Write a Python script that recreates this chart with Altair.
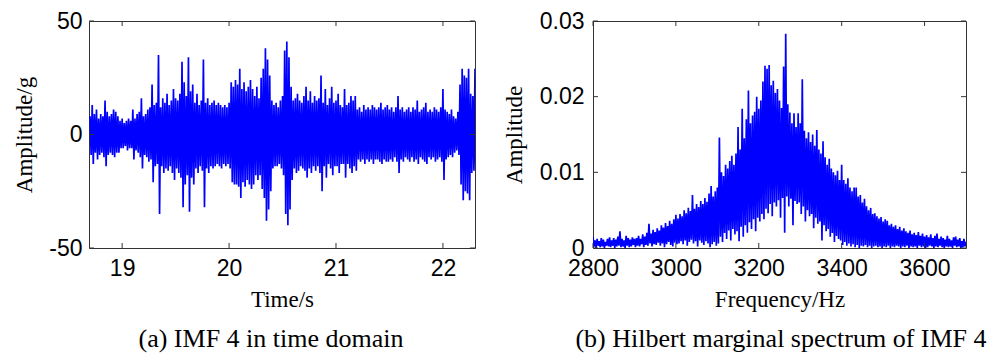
import altair as alt
import pandas as pd

# ---- (a) IMF 4 in time domain: upper / lower swing of each 0.02 s sample ----
TIME_START, TIME_STEP = 18.70, 0.02
imf4_upper = [
    8, 13, 9, 11, 7, 9, 8, 15, 10, 8,
    9, 11, 10, 8, 6, 7, 5, 6, 7, 6,
    11, 7, 9, 10, 16, 8, 9, 11, 12, 22,
    13, 14, 35, 12, 16, 14, 18, 13, 15, 20,
    16, 15, 18, 32, 23, 17, 34, 19, 22, 14,
    18, 13, 15, 33, 14, 16, 13, 14, 15, 13,
    14, 13, 12, 13, 12, 14, 23, 21, 24, 22,
    29, 20, 23, 19, 21, 24, 20, 17, 21, 16,
    25, 29, 38, 33, 26, 15, 13, 14, 12, 15,
    17, 37, 41, 34, 21, 15, 16, 18, 15, 14,
    17, 21, 15, 19, 14, 17, 15, 16, 26, 14,
    20, 13, 16, 21, 14, 15, 18, 13, 12, 20,
    13, 14, 17, 15, 17, 11, 12, 10, 13, 11,
    12, 11, 13, 12, 11, 12, 14, 11, 12, 13,
    11, 12, 10, 12, 17, 11, 12, 10, 11, 12,
    10, 12, 11, 15, 10, 11, 12, 14, 10, 11,
    10, 12, 11, 10, 12, 20, 11, 10, 9, 11,
    8, 7, 10, 22, 29, 26, 25, 29, 18, 17, 29,
]
imf4_lower = [
    -9, -13, -8, -11, -9, -8, -10, -14, -9, -8,
    -9, -10, -8, -8, -6, -6, -5, -7, -6, -6,
    -11, -7, -8, -10, -15, -9, -10, -12, -11, -21,
    -14, -13, -35, -14, -17, -15, -16, -14, -17, -20,
    -15, -17, -19, -32, -22, -18, -34, -19, -22, -15,
    -17, -14, -16, -32, -15, -17, -14, -15, -14, -13,
    -14, -15, -13, -14, -13, -15, -21, -22, -22, -23,
    -28, -21, -23, -20, -22, -24, -22, -18, -20, -18,
    -24, -28, -38, -33, -25, -15, -14, -14, -13, -15,
    -18, -35, -40, -33, -20, -15, -17, -16, -14, -15,
    -16, -19, -15, -17, -14, -16, -14, -17, -25, -14,
    -19, -13, -15, -18, -14, -14, -17, -13, -13, -19,
    -13, -15, -17, -14, -16, -11, -12, -11, -13, -11,
    -12, -11, -13, -11, -11, -12, -13, -11, -12, -12,
    -11, -12, -10, -12, -17, -11, -12, -10, -11, -12,
    -10, -12, -11, -13, -10, -11, -12, -13, -10, -11,
    -10, -12, -11, -10, -12, -20, -11, -10, -9, -10,
    -8, -7, -9, -22, -29, -25, -26, -29, -17, -16, -29,
]

# ---- (b) Hilbert marginal spectrum of IMF 4 (amplitude in units of 1e-3) ----
FREQ_START, FREQ_STEP = 2800, 5
hms_upper = [
    1.5, 1.0, 1.2, 0.9, 1.3, 1.1, 0.8, 1.2, 1.4, 1.0, 1.3, 1.1, 1.5, 2.2, 1.2, 1.0, 1.6, 1.3, 1.1, 1.4, 1.2,
    1.3, 1.6, 1.2, 1.8, 1.5, 2.0, 3.2, 1.9, 2.4, 2.1, 2.6, 2.3, 3.0, 2.7, 3.3, 2.9, 3.6, 3.2, 3.8, 4.4,
    3.9, 4.5, 4.2, 5.0, 4.6, 5.3, 4.9, 7.0, 5.2, 5.8, 5.4, 6.2, 5.8, 6.6, 6.1, 7.2, 8.2, 6.8, 7.5,
    8.0, 14.6, 10.0, 9.5, 11.0, 10.5, 11.5, 12.2, 11.0, 12.5,
    16.0, 13.0, 18.4, 14.5, 17.0, 20.8, 16.5, 17.5, 18.0, 20.0,
    18.4, 19.5, 22.0, 24.1, 23.7, 24.2, 21.5, 22.1, 20.5, 21.0,
    19.5, 18.5, 24.0, 28.3, 19.0, 17.9, 16.5, 17.8, 16.0, 17.8,
    16.5, 22.3, 15.5, 14.5, 15.3, 14.0, 15.0, 13.5, 15.6, 13.0,
    12.5, 14.1, 12.0, 11.0, 11.8, 10.5, 10.0, 9.6, 10.2, 9.0,
    11.0,
    9.0, 8.5, 9.2, 8.0, 7.5, 8.0, 8.0, 6.8, 7.0, 6.0,
    6.5, 5.5, 5.0, 5.3, 4.5, 4.6, 4.2, 3.9, 4.1, 3.5,
    3.8, 3.6, 3.0, 3.2, 2.8, 3.0, 2.5, 2.8, 2.3, 2.6,
    2.2, 2.0, 2.3, 1.8, 2.0, 1.7, 2.1, 1.6, 1.9, 1.5,
    1.7, 1.4, 1.8, 1.3, 1.6, 1.9, 1.2, 1.5, 1.3, 1.1,
    1.6, 1.2, 1.0, 1.4, 1.5, 1.1, 1.3, 0.9, 1.2, 0.8,
]
hms_lower = [
    0.2, 0.0, 0.3, 0.1, 0.2, 0.0, 0.3, 0.2, 0.1, 0.3, 0.0, 0.2, 0.3, 0.1, 0.2, 0.0, 0.3, 0.1, 0.2, 0.4, 0.1,
    0.3, 0.2, 0.5, 0.1, 0.4, 0.3, 0.6, 0.2, 0.5, 0.4, 0.7, 0.3, 0.6, 0.1, 0.5, 0.8, 0.4, 0.2, 0.7, 0.5,
    0.6, 0.9, 0.5, 1.0, 0.3, 0.8, 1.1, 0.6, 0.9, 0.2, 1.0, 0.7, 0.4, 0.9, 0.6, 0.1, 0.5, 0.8, 0.3, 0.6,
    1.5, 0.8, 2.0, 1.2, 2.3, 1.0, 2.5, 1.8, 2.2, 0.9, 2.8, 1.5, 3.0, 2.0, 3.4, 2.5, 3.8, 2.2, 4.0, 3.5,
    4.5, 3.8, 5.2, 4.6, 5.8, 4.2, 6.0, 5.5, 6.3, 4.0, 6.6, 2.0, 6.8, 5.5, 6.5, 3.0, 6.2, 5.8, 6.0, 4.5,
    5.5, 3.5, 5.0, 4.2, 4.5, 2.6, 4.0, 3.2, 3.5, 1.0, 3.0, 2.2, 2.5, 1.5, 2.0, 0.8, 1.6, 1.2, 1.0, 0.4,
    0.8, 0.3, 0.6, 0.2, 0.5, 0.1, 0.4, 0.0, 0.3, 0.2, 0.4, 0.1, 0.3, 0.0, 0.2, 0.3, 0.1, 0.2, 0.0, 0.2,
    0.1, 0.3, 0.0, 0.2, 0.1, 0.3, 0.2, 0.0, 0.2, 0.1, 0.3, 0.0, 0.2, 0.1, 0.2, 0.0, 0.3, 0.1, 0.2, 0.0,
    0.1, 0.3, 0.2, 0.0, 0.2, 0.1, 0.3, 0.1, 0.0, 0.2, 0.1, 0.2, 0.0, 0.3, 0.1, 0.2, 0.0, 0.1, 0.2, 0.1,
]

time_ticks = [19, 20, 21, 22]
amp_ticks = [-50, 0, 50]
freq_ticks = [2800, 3000, 3200, 3400, 3600]
spec_ticks = [0, 0.01, 0.02, 0.03]

caption_a = "(a) IMF 4 in time domain"
caption_b = "(b) Hilbert marginal spectrum of IMF 4"

BLUE = "#0000ff"
FRAME = "#333333"
H = 227
W_A, W_B = 386, 373
TICK = 5


def oscillation(start, step, upper, lower, scale=1.0):
    """Trace that swings from each sample's upper value to its lower value."""
    rows = []
    for i, (u, l) in enumerate(zip(upper, lower)):
        x = start + step * i
        rows.append({"x": x, "y": u * scale})
        rows.append({"x": x + step / 2, "y": l * scale})
    return pd.DataFrame(rows)


def panel(df, xdom, ydom, xticks, yticks, xtitle, ytitle, caption, width,
          xfmt, ylabel_expr, label_pad_y, title_pad_y, cap_x):
    x_enc = alt.X("x:Q",
                  scale=alt.Scale(domain=xdom, nice=False, zero=False),
                  axis=alt.Axis(values=xticks, format=xfmt, title=xtitle,
                                labelFlush=False, labelOverlap=False,
                                labelPadding=9, titlePadding=8))
    y_enc = alt.Y("y:Q",
                  scale=alt.Scale(domain=ydom, nice=False, zero=False),
                  axis=alt.Axis(values=yticks, labelExpr=ylabel_expr, title=ytitle,
                                labelFlush=False, labelOverlap=False,
                                labelPadding=label_pad_y, titlePadding=title_pad_y))

    trace = alt.Chart(df).mark_line(color=BLUE, strokeWidth=1.7, clip=True,
                                    strokeJoin="miter", strokeMiterLimit=2).encode(
        x=x_enc, y=y_enc)

    xt = pd.DataFrame({"x": xticks})
    yt = pd.DataFrame({"y": yticks})
    rule = dict(color=FRAME, strokeWidth=1)
    tick_bottom = alt.Chart(xt).mark_rule(**rule).encode(
        x=x_enc, y=alt.value(H), y2=alt.value(H - TICK))
    tick_top = alt.Chart(xt).mark_rule(**rule).encode(
        x=x_enc, y=alt.value(0), y2=alt.value(TICK))
    tick_left = alt.Chart(yt).mark_rule(**rule).encode(
        y=y_enc, x=alt.value(0), x2=alt.value(TICK))
    tick_right = alt.Chart(yt).mark_rule(**rule).encode(
        y=y_enc, x=alt.value(width), x2=alt.value(width - TICK))

    cap = alt.Chart(pd.DataFrame({"caption": [caption]})).mark_text(
        font="Liberation Serif", fontSize=26, align="center",
        baseline="alphabetic", color="black"
    ).encode(text="caption:N", x=alt.value(cap_x), y=alt.value(H + 99))

    return alt.layer(trace, tick_bottom, tick_top, tick_left, tick_right, cap).properties(
        width=width, height=H)


imf4 = oscillation(TIME_START, TIME_STEP, imf4_upper, imf4_lower)
hms = oscillation(FREQ_START, FREQ_STEP, hms_upper, hms_lower, scale=1e-3)

left = panel(imf4, [18.69, 22.3], [-50, 50], time_ticks, amp_ticks,
             "Time/s", "Amplitude/g", caption_a, W_A, "d",
             "'' + datum.value", 7, 12, 182)
right = panel(hms, [2800, 3700], [0, 0.03], freq_ticks, spec_ticks,
              "Frequency/Hz", "Amplitude", caption_b, W_B, "d",
              "datum.value == 0 ? '0' : format(datum.value, '.2f')", 9, 13, 188)

chart = alt.hconcat(left, right, spacing=26).properties(
    padding={"left": 13, "top": 9, "right": 0, "bottom": 0},
    background="white"
).configure_view(
    stroke=FRAME, strokeWidth=1
).configure_axis(
    domain=False, ticks=False, grid=False,
    labelFont="Liberation Sans", labelFontSize=23, labelColor="black",
    titleFont="Liberation Serif", titleFontSize=23, titleFontWeight="normal",
    titleColor="black"
)

chart.save("out.html", embed_options={"renderer": "svg", "actions": False})
